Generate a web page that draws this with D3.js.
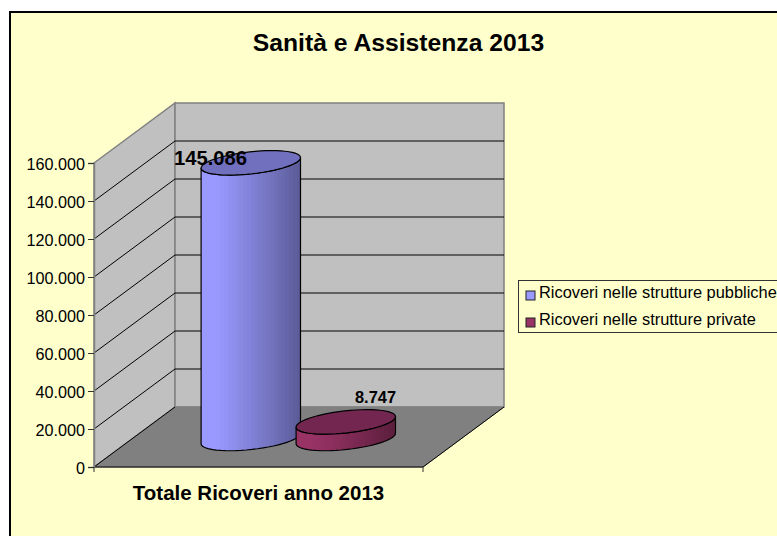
<!DOCTYPE html>
<html><head><meta charset="utf-8">
<script src="https://cdn.jsdelivr.net/npm/d3@7"></script>
<style>html,body{margin:0;padding:0;background:#fff;overflow:hidden}svg{display:block}text{font-family:"Liberation Sans",Arial,sans-serif;fill:#000}</style>
</head><body><div id="chart"></div>
<script>
const title = "Sanità e Assistenza 2013";
const category = "Totale Ricoveri anno 2013";
const seriesNames = ["Ricoveri nelle strutture pubbliche", "Ricoveri nelle strutture private"];
const seriesValues = [145086, 8747];
const seriesColors = ["#9999FF", "#993366"];
const seriesDark = ["#5C5C99", "#5C1F3D"];
const seriesTop = ["#7070BE", "#732650"];
const tickValues = [0, 20000, 40000, 60000, 80000, 100000, 120000, 140000, 160000];

const fmt = v => d3.format(",")(v).replace(/,/g, ".");
const svg = d3.select("#chart").append("svg").attr("width", 777).attr("height", 536);

svg.append("rect").attr("x", 10).attr("y", 12).attr("width", 900).attr("height", 700)
  .attr("fill", "#FFFFCC").attr("stroke", "#000").attr("stroke-width", 2);

const y = d3.scaleLinear().domain([0, 160000]).range([467, 163]);
const xFront = [94, 423];
const depth = { dx: 81, dy: -60 };
const poly = pts => "M" + pts.map(p => p.join(",")).join("L") + "Z";

// walls
const y0 = y(0), yT = y(160000);
svg.append("path").attr("d", poly([[xFront[0], yT], [xFront[0] + depth.dx, yT + depth.dy], [xFront[0] + depth.dx, y0 + depth.dy], [xFront[0], y0]]))
  .attr("fill", "#C0C0C0").attr("stroke", "#808080").attr("stroke-width", 1.5);
svg.append("path").attr("d", poly([[xFront[0] + depth.dx, yT + depth.dy], [xFront[1] + depth.dx, yT + depth.dy], [xFront[1] + depth.dx, y0 + depth.dy], [xFront[0] + depth.dx, y0 + depth.dy]]))
  .attr("fill", "#C0C0C0").attr("stroke", "#808080").attr("stroke-width", 1.5);
svg.append("path").attr("d", poly([[xFront[0], y0], [xFront[1], y0], [xFront[1] + depth.dx, y0 + depth.dy], [xFront[0] + depth.dx, y0 + depth.dy]]))
  .attr("fill", "#808080").attr("stroke", "#808080");

// gridlines
tickValues.slice(1, -1).forEach(v => {
  svg.append("path").attr("fill", "none").attr("stroke", "#000").attr("stroke-width", 1)
    .attr("d", `M${xFront[0]},${y(v)}L${xFront[0] + depth.dx},${y(v) + depth.dy}L${xFront[1] + depth.dx},${y(v) + depth.dy}`);
});

// floor front edges
svg.append("path").attr("fill", "none").attr("stroke", "#000").attr("stroke-width", 1)
  .attr("d", `M${xFront[0] + depth.dx},${y0 + depth.dy}L${xFront[0]},${y0}L${xFront[1]},${y0}L${xFront[1] + depth.dx},${y0 + depth.dy}`);

// axes
const yAxis = d3.axisLeft(y).tickValues(tickValues).tickFormat(fmt).tickSize(6).tickPadding(3);
const gy = svg.append("g").attr("transform", `translate(${xFront[0]},0)`).call(yAxis);
gy.selectAll("text").style("font-size", "16.2px").attr("dy", "0.42em");
gy.select(".domain").attr("stroke", "#808080").attr("stroke-width", 1.5);
gy.selectAll(".tick line").attr("stroke", "#333");

const xCat = d3.scalePoint().domain([category]).range(xFront).padding(0.5);
const xEnd = d3.scaleLinear().domain([0, 1]).range(xFront);
svg.selectAll(".ct").data([0, 1]).enter().append("line")
  .attr("x1", xEnd).attr("x2", xEnd).attr("y1", y0).attr("y2", y0 + 5).attr("stroke", "#333");
svg.append("text").attr("x", xCat(category)).attr("y", 500).attr("text-anchor", "middle")
  .style("font-size", "20.5px").style("font-weight", "bold").text(category);

// cylinders
const defs = svg.append("defs");
seriesNames.forEach((n, i) => {
  const g = defs.append("linearGradient").attr("id", "g" + i);
  const steps = 26, c = d3.interpolateRgb(seriesColors[i], seriesDark[i]);
  d3.range(steps).forEach(k => {
    const f = k < 3 ? 0 : Math.pow((k - 3) / (steps - 4), 1.15);
    g.append("stop").attr("offset", k / steps).attr("stop-color", c(f));
    g.append("stop").attr("offset", (k + 1) / steps).attr("stop-color", c(f));
  });
});

const bx = d3.scaleBand().domain(seriesNames).range([165.5, 355.5]);
const baseDepth = 28 / 60;                  // fraction of the floor depth
const A = 50, B = 11, th = -6.3 * Math.PI / 180;
const pt = (cx, cy, t) => [
  cx + A * Math.cos(t) * Math.cos(th) - B * Math.sin(t) * Math.sin(th),
  cy + A * Math.cos(t) * Math.sin(th) + B * Math.sin(t) * Math.cos(th)];
const N = 28;

seriesNames.forEach((n, i) => {
  const cx = bx(n) + bx.bandwidth() / 2 + depth.dx * baseDepth;
  const cyBase = y0 + depth.dy * baseDepth - 0.5;
  const cyTop = y(seriesValues[i]) + depth.dy * baseDepth - 0.5;
  const front = d3.range(N + 1).map(k => Math.PI * k / N);   // right -> left via the front
  const side = front.map(t => pt(cx, cyBase, t))
    .concat(front.slice().reverse().map(t => pt(cx, cyTop, t)));
  svg.append("path").attr("d", poly(side)).attr("fill", `url(#g${i})`).attr("stroke", "#000").attr("stroke-width", 1.2).attr("stroke-linejoin", "round");
  const top = d3.range(N * 2).map(k => pt(cx, cyTop, Math.PI * k / N));
  svg.append("path").attr("d", poly(top)).attr("fill", seriesTop[i]).attr("stroke", "#000").attr("stroke-width", 1.2).attr("stroke-linejoin", "round");
  const big = i === 0;
  svg.append("text")
    .attr("x", big ? 210.5 : 375.5).attr("y", big ? 165 : 403).attr("text-anchor", "middle")
    .style("font-size", big ? "20.2px" : "16.4px").style("font-weight", "bold").text(fmt(seriesValues[i]));
});

// title
svg.append("text").attr("x", 398.5).attr("y", 51).attr("text-anchor", "middle")
  .style("font-size", "24.7px").style("font-weight", "bold").text(title);

// legend
svg.append("rect").attr("x", 518.5).attr("y", 280.5).attr("width", 300).attr("height", 52)
  .attr("fill", "#FFFFCC").attr("stroke", "#333").attr("stroke-width", 1);
const ly = d3.scalePoint().domain(seriesNames).range([298, 325]);
seriesNames.forEach((n, i) => {
  svg.append("rect").attr("x", 526).attr("y", ly(n) - 7).attr("width", 9).attr("height", 9)
    .attr("fill", seriesColors[i]).attr("stroke", "#222").attr("stroke-width", 1);
  svg.append("text").attr("x", 539).attr("y", ly(n)).style("font-size", "16.4px").text(n);
});
</script></body></html>
